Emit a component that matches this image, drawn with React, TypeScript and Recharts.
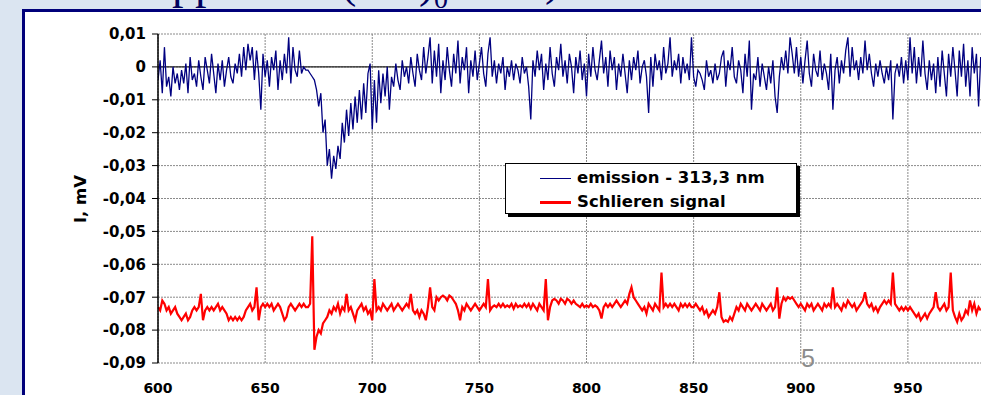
import React from "react";
import { LineChart, Line, XAxis, YAxis, CartesianGrid, ReferenceLine, Legend } from "recharts";

// one sample per axis unit, starting at T0
const T0 = 600;
const xTicks = [600, 650, 700, 750, 800, 850, 900, 950];
const yTicks = [0.01, 0, -0.01, -0.02, -0.03, -0.04, -0.05, -0.06, -0.07, -0.08, -0.09];

// emission - 313,3 nm, µV
const emission = [
  -4, 2, -8, 6, -6, -3, -9, 0, -5, -2, // 600
  -7, -1, -5, 1, -8, 3, -4, -2, -6, 2,
  -3, -7, 3, -1, -5, 4, -2, -8, 1, -4,
  2, -6, -1, 3, -3, -5, 1, -2, 4, -3,
  6, -1, 7, 2, 6, -4, 5, -2, -13, 4,
  -3, 2, -6, 3, -1, 5, -7, 2, -4, 4, // 650
  -2, 9, -5, 6, -1, -3, 5, -2, 0, -1,
  -1, -2, -3, -4, -7, -12, -8, -20, -16, -30,
  -25, -34, -27, -31, -24, -28, -17, -23, -13, -21,
  -11, -19, -9, -17, -7, -16, -5, -14, -2, 1,
  -19, -4, -17, -1, -11, -2, -9, 0, -13, -3, // 700
  -6, 1, -4, -7, 2, -3, 0, -5, 3, -2,
  -6, 4, -1, -4, 6, -2, 3, 9, -5, 5,
  -3, 7, -8, 2, -4, 6, -1, -6, 4, -2,
  8, -5, 3, -1, 6, -8, 2, -3, 5, -4,
  1, 6, -2, -6, 4, 9, -3, 2, -5, 1, // 750
  -2, 3, -7, 0, -3, 2, -4, 1, -1, -5,
  3, -2, 0, -6, -16, 2, -3, 5, -1, 4,
  -7, 1, -4, 6, -2, -6, 3, -1, 7, -3,
  2, -5, 4, 0, -8, 3, -2, 5, -4, 1,
  -9, 4, -3, 6, -1, -4, 2, 8, -2, 3, // 800
  -6, 5, -1, 3, -7, 1, -3, 4, -2, -8,
  2, -4, 3, -1, 5, -5, 0, 2, -3, -14,
  3, -6, 4, -1, 2, -4, 6, -2, 1, 9,
  -3, 2, -1, 4, -5, 3, -2, 1, -4, 9,
  -3, -6, -1, -2, -4, -7, 2, -3, -1, -5, // 850
  1, -4, -2, 3, 5, -6, 2, -1, 6, -3,
  -5, 2, -1, -8, 4, -3, 8, -13, -2, -4,
  3, -6, 1, -3, -7, 0, -5, 2, -9, -14,
  -3, 3, -1, 5, -2, 9, 4, -2, 6, -3,
  3, -5, 2, 8, -2, -6, 4, -1, -3, 5, // 900
  -4, 1, -2, -7, 4, -13, -1, 3, -5, 2,
  -2, 5, 9, -3, 6, -1, 2, -4, 3, -2,
  8, -1, 4, -2, -6, 1, -3, 2, -2, -5,
  0, -4, 2, -16, -2, 1, -3, 3, -5, 2,
  -4, 9, -2, 6, -5, 3, -3, 8, -2, -7, // 950
  2, -4, 1, -8, 3, -6, 5, -2, -9, 4,
  -3, 6, -1, -9, 5, -3, 7, -6, 2, -9,
  6, -2, 4, -12, 3,
];

// Schlieren signal, µV
const schlieren = [
  -73, -74, -71, -72, -74, -73, -75, -74, -73, -75, // 600
  -76, -77, -76, -75, -77, -76, -74, -73, -74, -73,
  -69, -77, -74, -73, -74, -73, -74, -73, -72, -74,
  -73, -74, -75, -77, -76, -77, -76, -77, -76, -77,
  -76, -74, -73, -72, -74, -73, -67, -77, -73, -72,
  -73, -72, -73, -72, -74, -73, -72, -73, -75, -77, // 650
  -76, -73, -72, -73, -74, -73, -72, -73, -72, -73,
  -73, -72, -51.5, -86, -82, -80, -81, -78, -77, -76,
  -74, -75, -73, -74, -72, -75, -73, -74, -69, -74,
  -73, -75, -77, -74, -73, -72, -74, -73, -75, -74,
  -77, -64.5, -74, -73, -74, -72, -73, -74, -73, -72, // 700
  -74, -73, -72, -73, -74, -73, -72, -73, -69, -74,
  -75, -74, -76, -74, -75, -77, -73, -67, -73, -74,
  -70, -71, -70, -69.5, -70, -71, -69.5, -70, -71, -72,
  -74, -77, -73, -74, -72, -73, -74, -73, -72, -73,
  -74, -73, -72, -73, -64.5, -74, -73, -72.5, -73, -72, // 750
  -73, -72, -73, -72.5, -73, -72, -73.5, -72, -73, -72.5,
  -73, -72, -73, -72, -73.5, -72, -73, -74, -72, -73,
  -74, -64.5, -77, -73, -71, -70.5, -71, -72, -70.5, -71,
  -72, -70.5, -71, -72, -71, -72, -72.5, -73, -72, -73,
  -72.5, -73, -72, -73, -72.5, -73, -74, -76.5, -73, -72, // 800
  -73, -72, -73, -72, -71, -72, -73, -72, -71, -72,
  -69, -67, -70, -71, -72, -73, -74, -73, -75, -72,
  -73, -74, -72, -73, -74, -62.5, -73, -72, -73, -72,
  -73, -72, -73, -74, -72, -73, -72, -73, -72, -73,
  -73, -72, -73, -74, -73, -75, -74, -76, -75, -74, // 850
  -75, -73, -68.5, -76, -77.5, -77, -77.5, -76, -77, -75,
  -73, -74, -72, -73, -74, -72, -73, -74, -73, -72,
  -73, -74, -72, -73, -74, -73, -72, -74, -73, -67,
  -76.5, -72, -70, -71, -70, -70.5, -70, -71, -72, -73,
  -72, -73, -74, -72, -73, -72, -74, -73, -72, -73, // 900
  -74, -72, -73, -72, -73, -67, -73, -72, -73, -74,
  -72, -73, -71, -72, -73, -72, -74, -73, -72, -71,
  -68.5, -72, -73, -72, -74, -73, -74.5, -73, -72, -71,
  -72, -71, -72, -62.5, -72, -73, -74, -73, -74, -73,
  -74, -73, -74, -75, -76, -75, -77, -76, -75, -76.5, // 950
  -75, -74, -73, -68.5, -73, -74, -73, -72, -74, -73,
  -62.5, -74, -76, -77.5, -75, -77, -76, -74, -75, -71,
  -74, -72, -75, -73, -74,
];

const rows = emission.map((e, i) => ({
  t: T0 + i,
  emission: e / 1000,
  schlieren: schlieren[i] / 1000,
}));

const FONT = "DejaVu Sans";
const legendOrder = ["emission", "schlieren"];

const fmtY = (v: number) => (v === 0 ? "0" : v.toFixed(2).replace(".", ","));

function LegendBox({ payload }: any) {
  const items = [...(payload || [])].sort(
    (a: any, b: any) => legendOrder.indexOf(a.dataKey) - legendOrder.indexOf(b.dataKey)
  );
  return (
    <div
      style={{
        width: 290,
        height: 49,
        border: "1px solid #000",
        background: "#fff",
        boxShadow: "3px 3px 0 #000",
        fontFamily: FONT,
        fontWeight: "bold",
        fontSize: 16.5,
        color: "#000",
        position: "relative",
      }}
    >
      {items.map((it: any, i: number) => (
        <div
          key={it.value}
          style={{ position: "absolute", left: 34, top: 3 + i * 24, height: 22, display: "flex", alignItems: "center" }}
        >
          <div
            style={{ width: 31, height: it.dataKey === "emission" ? 1 : 3, background: it.color, marginRight: 6 }}
          />
          <span style={{ lineHeight: "22px", whiteSpace: "nowrap" }}>{it.value}</span>
        </div>
      ))}
    </div>
  );
}

export default function App() {
  return (
    <div style={{ position: "fixed", left: 0, top: 0, width: 981, height: 395, overflow: "hidden", background: "#dbe5f1" }}>
      {/* slide heading, only its lower edge shows above the frame */}
      <svg width={981} height={14} style={{ position: "absolute", left: 0, top: 0 }}>
        <g fill="#00005e" fontFamily="Liberation Serif">
          <text x={172} y={-2} fontSize={46}>pp</text>
          <text x={341} y={-3} fontSize={46}>(</text>
          <text x={419} y={-3} fontSize={46}>)</text>
          <text x={434} y={8} fontSize={28}>0</text>
          <text x={545} y={-5} fontSize={46}>)</text>
        </g>
      </svg>
      <div
        style={{
          position: "absolute",
          left: 22,
          top: 9,
          width: 1100,
          height: 500,
          border: "3px solid #00007a",
          background: "#fff",
        }}
      />
      <div style={{ position: "absolute", left: 0, top: 0 }}>
        <LineChart width={1035} height={395} data={rows} margin={{ top: 34, right: 20, bottom: 2, left: 98 }}>
          <CartesianGrid stroke="#8a8a8a" strokeDasharray="2 1" />
          <XAxis
            dataKey="t"
            type="number"
            domain={[600, 1000]}
            ticks={xTicks}
            allowDataOverflow
            axisLine={false}
            tickLine={false}
            tickSize={0}
            tickMargin={20}
            height={30}
            tick={{ fill: "#000", fontSize: 14, fontWeight: "bold", fontFamily: FONT }}
          />
          <YAxis
            type="number"
            domain={[-0.09, 0.01]}
            ticks={yTicks}
            allowDataOverflow
            width={60}
            tickFormatter={fmtY}
            axisLine={{ stroke: "#000", strokeWidth: 1.5 }}
            tickLine={{ stroke: "#000" }}
            tickSize={6}
            tickMargin={6}
            tick={{ fill: "#000", fontSize: 15, fontWeight: "bold", fontFamily: FONT }}
          />
          <ReferenceLine y={0} stroke="#222" strokeWidth={1.3} />
          <Legend
            verticalAlign="middle"
            align="center"
            layout="horizontal"
            content={LegendBox}
            wrapperStyle={{ left: 505, top: 163, width: 292, height: 51 }}
          />
          <Line
            dataKey="emission"
            name="emission - 313,3 nm"
            stroke="#000080"
            strokeWidth={1.3}
            dot={false}
            isAnimationActive={false}
          />
          <Line
            dataKey="schlieren"
            name="Schlieren signal"
            stroke="#ff0000"
            strokeWidth={2.2}
            dot={false}
            isAnimationActive={false}
          />
        </LineChart>
      </div>
      <svg width={981} height={395} style={{ position: "absolute", left: 0, top: 0, pointerEvents: "none" }}>
        <text
          transform="translate(86,199) rotate(-90)"
          textAnchor="middle"
          fontFamily={FONT}
          fontWeight="bold"
          fontSize={16.5}
          fill="#000"
        >
          I, mV
        </text>
        <text x={801} y={367} fontFamily="Liberation Sans" fontSize={25} fill="#8c8c8c">
          5
        </text>
      </svg>
    </div>
  );
}
